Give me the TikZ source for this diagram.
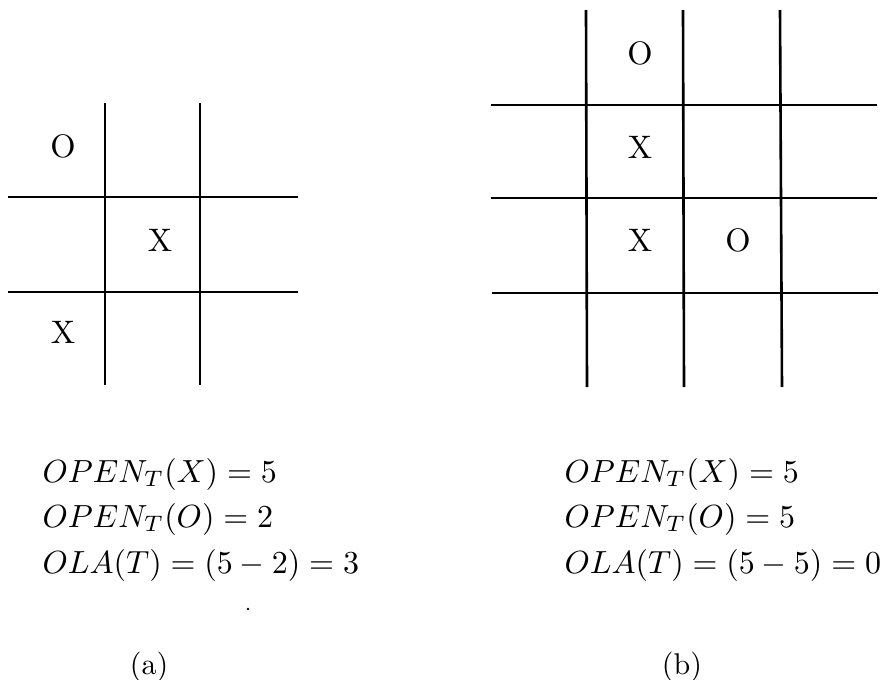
\documentclass[tikz,border=0pt]{standalone}
\usepackage{amsmath}
\begin{document}
\begin{tikzpicture}[x=1pt,y=-1pt,
  gridline/.style={line width=2.6pt,black},
  cellmark/.style={scale=3.25,transform shape,inner sep=0pt},
  formula/.style={scale=3.2,transform shape,anchor=base west,inner sep=0pt},
  caption/.style={scale=3.0,transform shape,anchor=base,inner sep=0pt}]
\useasboundingbox (0,0) rectangle (884,680);
% grid (a)
\coordinate (a1t) at (105,103); \coordinate (a1b) at (105,385);
\coordinate (a2t) at (200,103); \coordinate (a2b) at (200,385);
\coordinate (a3l) at (8,197);   \coordinate (a3r) at (298,197);
\coordinate (a4l) at (8,292);   \coordinate (a4r) at (298,292);
\draw[gridline] (a1t) -- (a1b);
\draw[gridline] (a2t) -- (a2b);
\draw[gridline] (a3l) -- (a3r);
\draw[gridline] (a4l) -- (a4r);
\node[cellmark] (ao1) at (63,146) {O};
\node[cellmark] (ax1) at (160,240) {X};
\node[cellmark] (ax2) at (63,332) {X};
% grid (b)
\coordinate (b1t) at (586,10); \coordinate (b1b) at (587,387);
\coordinate (b2t) at (683,10); \coordinate (b2b) at (684,387);
\coordinate (b3t) at (780,10); \coordinate (b3b) at (782,387);
\coordinate (b4l) at (491,105); \coordinate (b4r) at (877,105);
\coordinate (b5l) at (491,198); \coordinate (b5r) at (877,198);
\coordinate (b6l) at (492,293); \coordinate (b6r) at (878,293);
\draw[gridline] (b1t) -- (b1b);
\draw[gridline] (b2t) -- (b2b);
\draw[gridline] (b3t) -- (b3b);
\draw[gridline] (b4l) -- (b4r);
\draw[gridline] (b5l) -- (b5r);
\draw[gridline] (b6l) -- (b6r);
\node[cellmark] (bo1) at (640,53) {O};
\node[cellmark] (bx1) at (640,147) {X};
\node[cellmark] (bx2) at (640,240) {X};
\node[cellmark] (bo2) at (738,240) {O};
% formulas (a)
\node[formula] (fa1) at (42,482) {$OPEN_T(X) = 5$};
\node[formula] (fa2) at (42,527) {$OPEN_T(O) = 2$};
\node[formula] (fa3) at (42,573) {$OLA(T) = (5-2) = 3$};
% formulas (b)
\node[formula] (fb1) at (564,482) {$OPEN_T(X) = 5$};
\node[formula] (fb2) at (564,527) {$OPEN_T(O) = 5$};
\node[formula] (fb3) at (564,573) {$OLA(T) = (5-5) = 0$};
% captions
\node[caption] (ca) at (149,674) {(a)};
\node[caption] (cb) at (682,674) {(b)};
\fill (248,609) circle (1.4);
\end{tikzpicture}
\end{document}
